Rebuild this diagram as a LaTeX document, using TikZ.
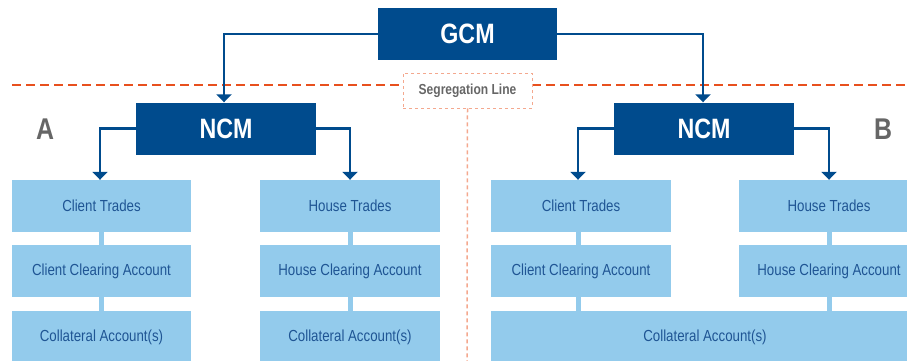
\documentclass[tikz,border=0pt]{standalone}
\usepackage{fontspec}
\setmainfont[FakeStretch=0.83]{Liberation Sans}
\usetikzlibrary{arrows.meta}
\definecolor{dblue}{HTML}{004B8D}
\definecolor{lblue}{HTML}{93CBEC}
\definecolor{tblue}{HTML}{1F5594}
\definecolor{segred}{HTML}{E8501E}
\definecolor{salmon}{HTML}{F4A88E}
\definecolor{lettergrey}{HTML}{666666}
\tikzset{
  darkbox/.style={fill=dblue, text=white, font=\bfseries\fontsize{28}{30}\selectfont, minimum width=#1, minimum height=52pt, inner sep=0pt},
  darkbox/.default=180pt,
  lightbox/.style={fill=lblue, text=tblue, font=\fontsize{16}{18}\selectfont, minimum width=#1, minimum height=52pt, inner sep=0pt},
  lightbox/.default=179pt,
  conn/.style={draw=dblue, line width=2.8pt, -{Triangle[width=15pt,length=8pt]}},
  strip/.style={draw=lblue, line width=5pt},
  sidelabel/.style={text=lettergrey, font=\bfseries\fontsize{30}{32}\selectfont, inner sep=0pt},
}
\begin{document}
\begin{tikzpicture}[x=1pt,y=-1pt]
\useasboundingbox (0,0) rectangle (907,361);
\clip (0,0) rectangle (907,361);
% segregation line
\draw[segred, line width=2.5pt, dash pattern=on 9pt off 5pt] (12,85) -- (403,85);
\draw[segred, line width=2.5pt, dash pattern=on 9pt off 5pt] (532,85) -- (907,85);
\node[draw=salmon, dashed, line width=0.8pt, minimum width=129pt, minimum height=35pt, inner sep=0pt, text=lettergrey, font=\bfseries\fontsize{14.5}{16}\selectfont] (seg) at (467.5,90.5) {Segregation Line};
\coordinate (segend) at (467,361);
\draw[salmon, line width=1.5pt, dash pattern=on 4pt off 3pt] (seg.south) -- (segend);
% top
\node[darkbox=179pt] (gcm) at (467.5,34) {GCM};
\node[darkbox] (ncma) at (226,128.5) {NCM};
\node[darkbox] (ncmb) at (704,128.5) {NCM};
\node[sidelabel] (la) at (45,129) {A};
\node[sidelabel] (lb) at (883,129) {B};
% A column boxes
\node[lightbox] (cta) at (101.5,206) {Client Trades};
\node[lightbox] (cca) at (101.5,271) {Client Clearing Account};
\node[lightbox] (cola) at (101.5,337) {Collateral Account(s)};
\node[lightbox=180pt] (hta) at (350,206) {House Trades};
\node[lightbox=180pt] (hca) at (350,271) {House Clearing Account};
\node[lightbox=180pt] (colha) at (350,337) {Collateral Account(s)};
% B column boxes
\node[lightbox=180pt] (ctb) at (581,206) {Client Trades};
\node[lightbox=180pt] (ccb) at (581,271) {Client Clearing Account};
\node[lightbox=180pt] (htb) at (829,206) {House Trades};
\node[lightbox=180pt] (hcb) at (829,271) {House Clearing Account};
\node[lightbox=428pt] (colb) at (705,337) {Collateral Account(s)};
% strips
\draw[strip] (cta.south) -- (cca.north);
\draw[strip] (cca.south) -- (cola.north);
\draw[strip] (hta.south) -- (hca.north);
\draw[strip] (hca.south) -- (colha.north);
\draw[strip] ([xshift=-3pt]ctb.south) -- ([xshift=-3pt]ccb.north);
\draw[strip] ([xshift=-3pt]ccb.south) -- ([xshift=-3pt]ccb.south |- colb.north);
\draw[strip] (htb.south) -- (hcb.north);
\draw[strip] (hcb.south) -- (hcb.south |- colb.north);
% connectors
\draw[conn] (gcm.west) -| ([xshift=-2pt]ncma.north);
\draw[conn] (gcm.east) -| ([xshift=-1pt]ncmb.north);
\draw[conn] (ncma.west) -| ([xshift=-1.5pt]cta.north);
\draw[conn] (ncma.east) -| (hta.north);
\draw[conn] (ncmb.west) -| ([xshift=-3pt]ctb.north);
\draw[conn] (ncmb.east) -| (htb.north);
\end{tikzpicture}
\end{document}
